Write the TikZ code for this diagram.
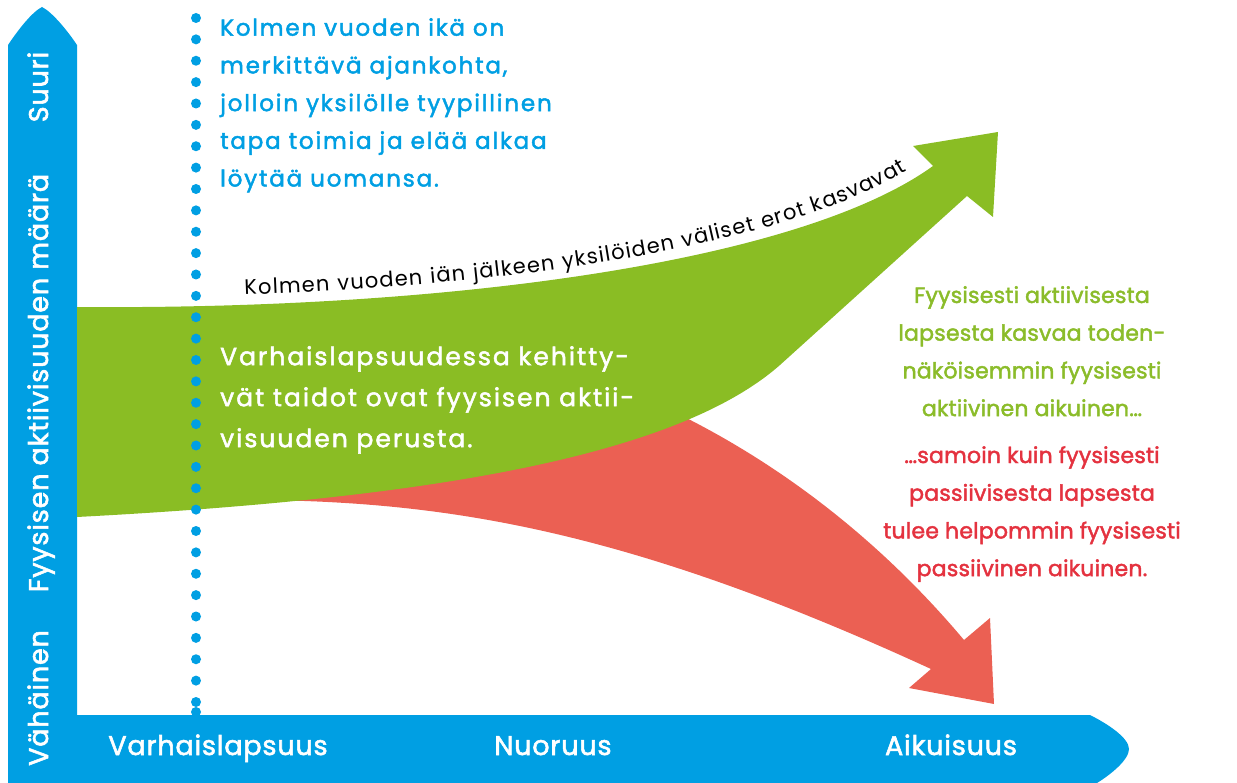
\documentclass[tikz,border=0pt]{standalone}
\usepackage{fontspec}
\setmainfont{Poppins}
\newfontfamily\roundfont[LetterSpace=8, FakeBold=2]{Poppins}
\newfontfamily\sidefont[LetterSpace=1, FakeBold=2]{Poppins}
\newfontfamily\axisfont[LetterSpace=3, FakeBold=2]{Poppins}
\newfontfamily\curvefont{Poppins}
\usetikzlibrary{decorations.text}
\definecolor{axisblue}{HTML}{009FE3}
\definecolor{leafgreen}{HTML}{8ABD24}
\definecolor{coral}{HTML}{EB6053}
\definecolor{textgreen}{HTML}{8BBC2A}
\definecolor{textred}{HTML}{E4323F}

\begin{document}
\begin{tikzpicture}[x=1pt,y=-1pt,
    axislabel/.style={text=white, font=\axisfont\fontsize{27}{27}\selectfont, inner sep=0, anchor=base},
    bodytext/.style={font=\roundfont\fontsize{23}{37.7}\selectfont, inner sep=0},
    sidetext/.style={font=\sidefont\fontsize{22}{37.7}\selectfont, inner sep=0, align=center, anchor=north}]
  \useasboundingbox (0,0) rectangle (1237,783);
  % axes
  \fill[axisblue] (8,783) -- (8,45) .. controls (18,30) and (32,12) .. (42,7) .. controls (52,12) and (67,30) .. (77,45)
    -- (77,715) -- (1090,715) .. controls (1108,724) and (1129,738) .. (1129,749) .. controls (1129,760) and (1110,775) .. (1097,783) -- cycle;
  \node[axislabel, rotate=90] (high) at (48,87) {Suuri};
  \node[axislabel, rotate=90] (amount) at (48,383) {Fyysisen aktiivisuuden määrä};
  \node[axislabel, rotate=90] (low) at (48,698) {Vähäinen};
  \node[axislabel] (early) at (218,755) {Varhaislapsuus};
  \node[axislabel] (youth) at (553,755) {Nuoruus};
  \node[axislabel] (adult) at (951,755) {Aikuisuus};

  % the two paths
  \fill[coral] (300,480) -- (600,380) .. controls (760,440) and (880,540) .. (964,640) -- (990,618) -- (994,704) -- (909,688)
    -- (931,669) .. controls (631,531) and (450,502) .. (260,500) -- cycle;
  \fill[leafgreen] (77,307) .. controls (450,310) and (800,262) .. (933,166) -- (913,146) -- (998,132) -- (993,217)
    -- (967,196) -- (780,365) .. controls (670,462) and (400,500) .. (77,517) -- cycle;
  \path[decorate, decoration={text along path, raise=10pt,
      text align={fit to path, left indent=168pt, right indent=26pt},
      text={|\curvefont\fontsize{21}{21}\selectfont|Kolmen vuoden iän jälkeen yksilöiden väliset erot kasvavat}}]
    (77,307) .. controls (450,310) and (800,262) .. (933,166);

  % three years
  \coordinate (dotTop) at (196,18);
  \coordinate (dotEnd) at (196,702);
  \draw[axisblue, line width=10, line cap=round, dash pattern=on 0pt off 21.375pt] (dotTop) -- (dotEnd);
  \fill[axisblue] (196,712) circle (5);

  \node[bodytext, text=axisblue, align=left, anchor=north west] (turn) at (220,18)
    {Kolmen vuoden ikä on\\merkittävä ajankohta,\\jolloin yksilölle tyypillinen\\tapa toimia ja elää alkaa\\löytää uomansa.};
  \node[bodytext, text=white, align=left, anchor=north west, font=\roundfont\fontsize{25}{41}\selectfont] (skills) at (220,346)
    {Varhaislapsuudessa kehitty-\\vät taidot ovat fyysisen aktii-\\visuuden perusta.};
  \node[sidetext, text=textgreen] (active) at (1032,286)
    {Fyysisesti aktiivisesta\\lapsesta kasvaa toden-\\näköisemmin fyysisesti\\aktiivinen aikuinen…};
  \node[sidetext, text=textred] (passive) at (1032,446)
    {…samoin kuin fyysisesti\\passiivisesta lapsesta\\tulee helpommin fyysisesti\\passiivinen aikuinen.};
\end{tikzpicture}
\end{document}
